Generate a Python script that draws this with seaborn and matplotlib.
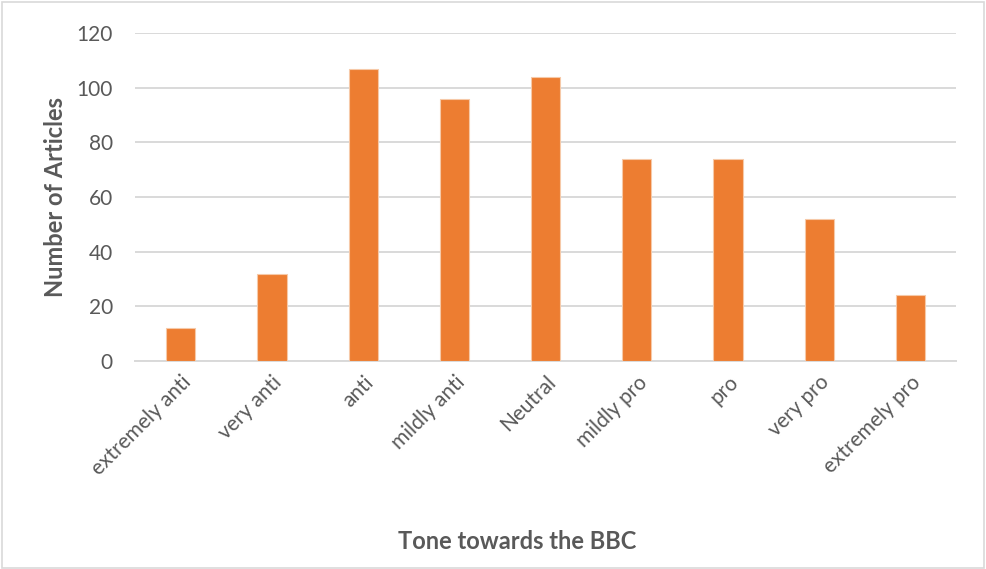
import matplotlib
matplotlib.use("Agg")
import matplotlib.pyplot as plt
import seaborn as sns
import pandas as pd
from matplotlib.patches import Rectangle

categories = ["extremely anti", "very anti", "anti", "mildly anti", "Neutral",
              "mildly pro", "pro", "very pro", "extremely pro"]
articles = [12, 32, 107, 96, 104, 74, 74, 52, 24]
y_ticks = [0, 20, 40, 60, 80, 100, 120]

df = pd.DataFrame({"tone": categories, "count": articles})

sns.set_theme(style="white")
plt.rcParams["font.family"] = ["Lato", "DejaVu Sans"]

fig = plt.figure(figsize=(9.86, 5.69), dpi=100)
ax = fig.add_axes([0.137, 0.3656, 0.8326, 0.5764])

sns.barplot(data=df, x="tone", y="count", color="#ED7D31", saturation=1,
            width=0.32, edgecolor="#F6C9A8", linewidth=0.8, ax=ax, zorder=3)

ax.set_ylim(0, 120)
ax.set_yticks(y_ticks)
ax.set_xlim(-0.5, len(categories) - 0.5)
ax.yaxis.grid(True, color="#D9D9D9", linewidth=1.4, zorder=0)
ax.xaxis.grid(False)
for side in ["top", "right", "left"]:
    ax.spines[side].set_visible(False)
ax.spines["bottom"].set_color("#D9D9D9")
ax.spines["bottom"].set_linewidth(1.4)
ax.tick_params(axis="both", length=0, colors="#595959", labelsize=15)
ax.tick_params(axis="y", pad=16)
ax.tick_params(axis="x", pad=8)
plt.setp(ax.get_xticklabels(), rotation=45, ha="right", rotation_mode="anchor")

ax.set_ylabel("Number of Articles", fontsize=17, fontweight="bold", color="#595959", labelpad=7)
ax.set_xlabel("")
fig.text(0.525, 0.049, "Tone towards the BBC", ha="center", va="center",
         fontsize=17, fontweight="bold", color="#595959")

fig.patches.append(Rectangle((0.002, 0.002), 0.996, 0.994, transform=fig.transFigure,
                             fill=False, edgecolor="#D9D9D9", linewidth=1.2))

fig.savefig("out.png", dpi=100)
